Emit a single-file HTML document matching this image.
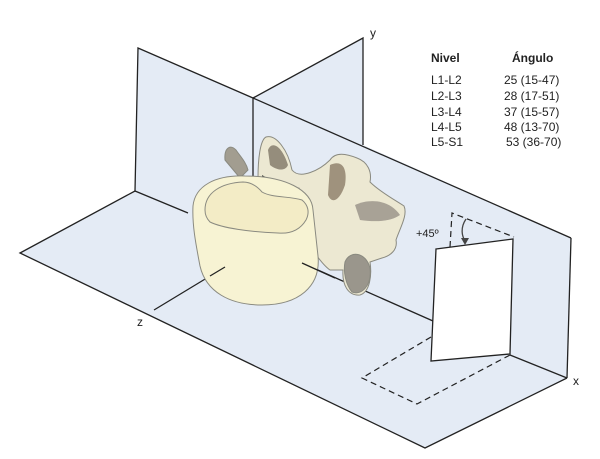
<!DOCTYPE html>
<html><head><meta charset="utf-8"><style>
html,body{margin:0;padding:0;background:#fff}
svg{display:block}
text{font-family:"Liberation Sans",Arial,sans-serif;fill:#222}
</style></head><body>
<svg width="600" height="459" viewBox="0 0 600 459" xmlns="http://www.w3.org/2000/svg">
<polygon points="138,48 253,98 363,38 363,145 571,238 567,378 425,448 20,253 135,191" fill="#e4ebf5"/>
<g stroke="#222" stroke-width="1.3" fill="none">
<polyline points="135,191 138,48 253,98 363,38 363,145"/>
<line x1="253" y1="98" x2="571" y2="238"/>
<line x1="571" y1="238" x2="567" y2="378"/>
<line x1="253" y1="98" x2="253" y2="183"/>
<polyline points="188,213 135,191 20,253 425,448 567,378"/>
<line x1="510" y1="355" x2="567" y2="378"/>
<line x1="154" y1="310" x2="225" y2="267"/>
<line x1="302" y1="263" x2="433" y2="321"/>
</g>
<g stroke="#8a8a80" stroke-width="1">
<path d="M225,160 C224,148 230,144 236,150 C240,156 246,162 248,170 L240,178 Z" fill="#a29d90"/>
<path d="M258,178 C258,160 260,140 266,137 C276,134 288,150 292,170 C300,180 320,170 330,160 C335,152 345,153 357,158 C368,162 372,172 370,182 C380,192 395,200 404,206 C408,215 400,228 396,240 C398,250 390,256 382,258 L370,262 C372,275 370,292 360,295 C348,296 342,285 343,270 L330,270 C318,262 300,230 280,200 Z" fill="#ece8d2"/>
<path d="M268,150 C272,140 282,146 288,165 C285,172 276,170 270,165 Z" fill="#958d7c" stroke="none"/>
<path d="M330,165 C340,160 348,165 345,185 C340,200 332,205 328,195 Z" fill="#9f927d" stroke="none"/>
<path d="M355,205 C370,198 390,200 400,215 C390,222 375,222 360,220 Z" fill="#a8a296" stroke="none"/>
<path d="M345,262 C350,250 366,252 370,268 C372,285 362,296 352,292 C346,285 343,272 345,262 Z" fill="#9a968c"/>
<path d="M262,175 C270,180 285,185 300,188 C290,193 275,188 262,182 Z" fill="#55554e" stroke="none"/>
<path d="M193,206 C195,186 215,175 245,176 C285,176 312,190 313,210 L318,256 C321,287 298,305 262,305 C230,305 206,292 200,266 C196,245 192,225 193,206 Z" fill="#f7f3d3"/>
<path d="M205,210 C205,192 222,183 243,182 C250,182 256,185 262,192 C272,198 290,196 302,200 C308,205 310,212 306,220 C300,230 290,234 278,233 C250,232 222,228 210,222 C206,218 205,214 205,210 Z" fill="#f3ecc6"/>
</g>
<line x1="225" y1="267" x2="210" y2="276" stroke="#222" stroke-width="1.3"/>
<line x1="302" y1="263" x2="335" y2="278" stroke="#222" stroke-width="1.3"/>
<polygon points="436,249 513,239 510,354 431,361" fill="#fff" stroke="#222" stroke-width="1.3"/>
<g stroke="#222" stroke-width="1.2" fill="none" stroke-dasharray="6,4">
<polyline points="450,247 452,213 514,237"/>
<polyline points="431,337 362,378 417,404 510,355"/>
</g>
<path d="M466,219 C460,228 462,236 465,241" stroke="#444" stroke-width="1.3" fill="none"/>
<polygon points="461,238 469,238 465,245" fill="#444"/>
<text x="416" y="237" font-size="11">+45º</text>
<text x="370" y="37" font-size="12">y</text>
<text x="573" y="385" font-size="12">x</text>
<text x="137" y="326" font-size="12">z</text>
<g font-size="12">
<text x="431" y="62" font-weight="bold">Nivel</text>
<text x="512" y="62" font-weight="bold">Ángulo</text>
<text x="431" y="84">L1-L2</text><text x="504" y="84">25 (15-47)</text>
<text x="431" y="100">L2-L3</text><text x="504" y="100">28 (17-51)</text>
<text x="431" y="116">L3-L4</text><text x="504" y="116">37 (15-57)</text>
<text x="431" y="131">L4-L5</text><text x="504" y="131">48 (13-70)</text>
<text x="431" y="146">L5-S1</text><text x="506" y="146">53 (36-70)</text>
</g>
</svg>
</body></html>
